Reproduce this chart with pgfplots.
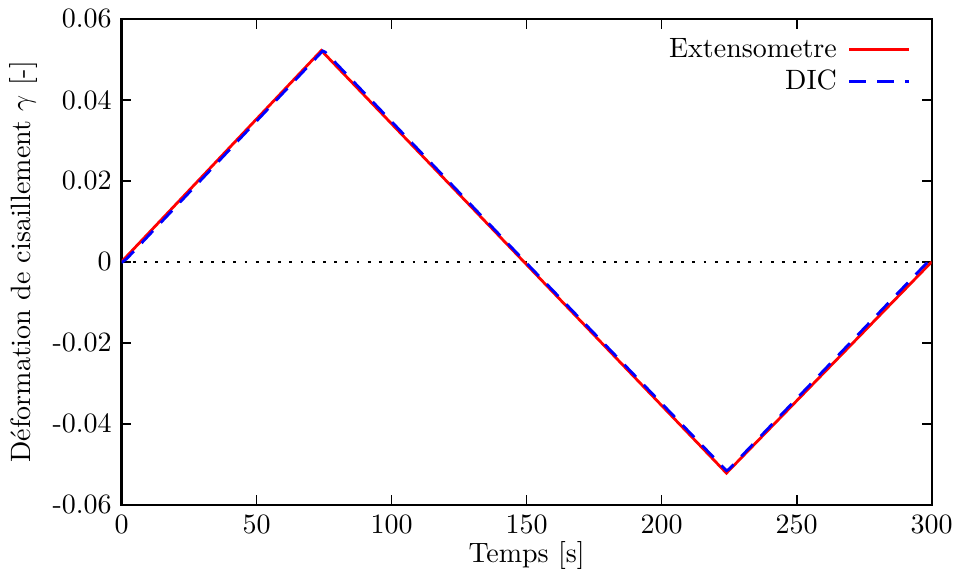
\documentclass[border=0pt]{standalone}
\usepackage{pgfplots}
\pgfplotsset{compat=1.18}
\begin{document}
\begin{tikzpicture}
\begin{axis}[
  scale only axis,
  width=10.175cm, height=6.1cm,
  xmin=0, xmax=300, ymin=-0.06, ymax=0.06,
  scaled y ticks=false, scaled x ticks=false,
  xtick={0,50,100,150,200,250,300},
  ytick={-0.06,-0.04,-0.02,0,0.02,0.04,0.06},
  yticklabels={{-0.06},{-0.04},{-0.02},{0},{0.02},{0.04},{0.06}},
  xticklabels={{0},{50},{100},{150},{200},{250},{300}},
  tick align=inside,
  major tick length=0.125cm,
  minor tick num=0,
  axis line style={line width=0.8pt},
  every tick/.style={black, line width=0.6pt},
  xlabel={Temps [s]},
  ylabel={Déformation de cisaillement $\gamma$ [-]},
  xlabel style={yshift=0.15cm},
  ylabel style={yshift=-0.05cm},
  legend cell align=right,
  legend plot pos=right,
  legend style={draw=none, fill=none, at={(0.985,0.985)}, anchor=north east, row sep=-1pt,
    nodes={inner xsep=4pt}},
  legend image code/.code={\draw[#1] (0.05cm,0cm) -- (0.8cm,0cm);},
]
\addplot[black, line width=0.5pt, dash pattern=on 1pt off 3pt, forget plot] coordinates {(0,0) (300,0)};
\addplot[red, line width=1.0pt] coordinates {
(0,0) (74,0.0522) (149,0) (224,-0.0522) (300,0)
};
\addlegendentry{Extensometre}
\addplot[blue, line width=1.0pt, dash pattern=on 6pt off 4pt] coordinates {
(0,-0.0002) (2,0.0008) (74.5,0.0521) (75.5,0.0518) (149.5,0) (224,-0.0516) (225,-0.0512) (298,-0.0004) (300,0)
};
\addlegendentry{DIC}
\end{axis}
\end{tikzpicture}
\end{document}
